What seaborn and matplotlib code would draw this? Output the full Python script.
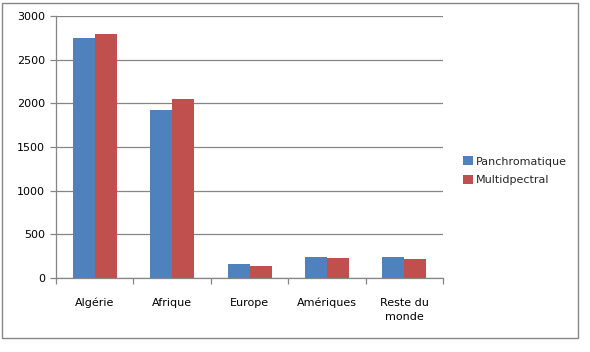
import seaborn as sns
import pandas as pd
import matplotlib.pyplot as plt
from matplotlib.patches import Rectangle

# Data
regions = ["Algérie", "Afrique", "Europe", "Amériques", "Reste du\nmonde"]
panchromatique = [2750, 1920, 160, 240, 240]
multidpectral = [2790, 2050, 140, 230, 220]
series_names = ["Panchromatique", "Multidpectral"]

palette = {"Panchromatique": "#4F81BD", "Multidpectral": "#C0504D"}
grey = "#868686"

df = pd.DataFrame({
    "Region": regions * 2,
    "Value": panchromatique + multidpectral,
    "Serie": [series_names[0]] * len(regions) + [series_names[1]] * len(regions),
})

sns.set_style("white")
plt.rcParams["font.family"] = ["DejaVu Sans"]

fig = plt.figure(figsize=(5.9, 3.52), dpi=100)
ax = fig.add_axes([0.095, 0.21, 0.656, 0.745])

sns.barplot(ax=ax, data=df, x="Region", y="Value", hue="Serie",
            hue_order=series_names, order=regions, palette=palette,
            width=0.57, saturation=1, errorbar=None, linewidth=0)

ax.set_xlim(-0.5, len(regions) - 0.5)
ax.set_ylim(0, 3000)
ax.set_yticks(range(0, 3001, 500))
ax.yaxis.grid(True, color=grey, linewidth=0.9)
ax.set_axisbelow(True)
ax.set_xlabel("")
ax.set_ylabel("")

# ticks at category boundaries
ax.set_xticks([i - 0.5 for i in range(len(regions) + 1)], minor=True)
ax.tick_params(axis="x", which="major", bottom=False, length=0, pad=14, labelsize=8)
ax.tick_params(axis="x", which="minor", bottom=True, length=4, width=0.9,
               color=grey, direction="out")
ax.tick_params(axis="y", left=True, length=4, width=0.9, color=grey,
               labelsize=8, pad=4)
ax.tick_params(axis="both", labelcolor="black")
for lbl in ax.get_xticklabels():
    lbl.set_linespacing(1.6)

for side in ["top", "right"]:
    ax.spines[side].set_visible(False)
for side in ["left", "bottom"]:
    ax.spines[side].set_color(grey)
    ax.spines[side].set_linewidth(0.9)

handles, labels = ax.get_legend_handles_labels()
ax.get_legend().remove()
fig.legend(handles, labels, loc="center left", bbox_to_anchor=(0.768, 0.515),
           frameon=False, fontsize=8, handlelength=0.9, handleheight=0.9,
           handletextpad=0.25, labelspacing=0.75)

# outer chart border
fig.patches.append(Rectangle((0.004, 0.04), 0.976, 0.952, transform=fig.transFigure,
                             fill=False, edgecolor=grey, linewidth=1.0))

plt.savefig("out.png", dpi=100)
